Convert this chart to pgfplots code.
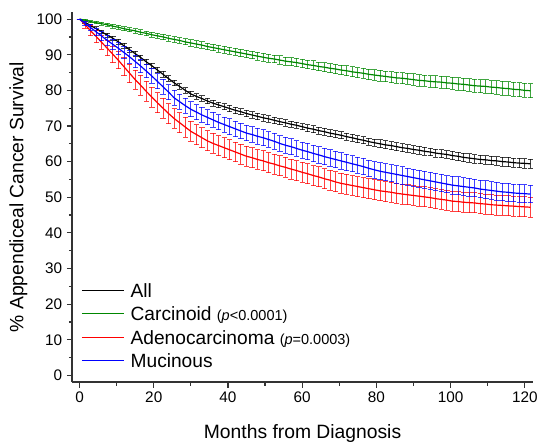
\documentclass[border=0pt]{standalone}
\usepackage{fontspec}
\setmainfont{Liberation Sans}
\usepackage{pgfplots}
\usepackage{pgfplotstable}
\pgfplotsset{compat=1.18}
\definecolor{cgreen}{RGB}{0,135,0}
\definecolor{axgray}{RGB}{51,51,51}
\tikzset{leg/.style={anchor=base west, xshift=36.5pt, yshift=-5.2pt, inner sep=0pt,
    text=black, font=\fontsize{14.4}{17}\selectfont},
    legline/.style={line width=1.2pt}}

% x: months; a/g/d/m: survival (%) for All, Carcinoid, Adeno, Mucinous; *e: error
\pgfplotstableread{
x a ae g ge d de m me
0 100 0 100 0 100 0 100 0
1.5 99.1 0.3 99.7 0.2 98.4 0.9 98.8 0.6
3 98.2 0.4 99.3 0.3 96.7 1.4 97.6 0.9
4.5 97.3 0.5 99.0 0.35 95.1 1.7 96.4 1.1
6 96.4 0.5 98.7 0.4 93.4 1.9 95.2 1.3
7.5 95.5 0.6 98.4 0.45 91.8 2.1 94.0 1.4
9 94.6 0.6 98.0 0.5 90.1 2.3 92.9 1.5
10.5 93.6 0.7 97.7 0.55 88.4 2.4 91.8 1.6
12 92.5 0.7 97.3 0.55 86.6 2.5 90.6 1.7
13.5 91.4 0.7 97.0 0.6 84.8 2.6 89.4 1.8
15 90.3 0.7 96.7 0.6 83.0 2.7 88.1 1.8
16.5 89.2 0.7 96.3 0.65 81.4 2.8 86.8 1.9
18 88.0 0.7 96.0 0.65 79.7 2.8 85.4 1.9
19.5 86.9 0.7 95.6 0.7 78.1 2.8 84.0 2.0
21 85.7 0.8 95.3 0.7 76.5 2.8 82.5 2.1
22.5 84.5 0.8 95.0 0.75 75.0 2.8 81.0 2.1
24 83.3 0.8 94.6 0.75 73.5 2.8 79.5 2.1
25.5 82.1 0.8 94.3 0.8 72.1 2.8 77.9 2.1
27 81.1 0.8 94.0 0.8 70.9 2.8 76.8 2.1
28.5 80.0 0.8 93.6 0.85 69.7 2.8 75.7 2.1
30 79.0 0.8 93.3 0.85 68.5 2.8 74.7 2.1
31.5 78.3 0.8 93.0 0.9 67.6 2.8 73.9 2.1
33 77.7 0.8 92.7 0.9 66.7 2.8 73.1 2.1
34.5 77.0 0.8 92.3 0.9 65.8 2.8 72.4 2.1
36 76.4 0.8 92.0 0.95 65.1 2.8 71.7 2.1
37.5 75.9 0.8 91.7 0.95 64.5 2.8 71.0 2.1
39 75.4 0.8 91.4 1.0 63.9 2.8 70.4 2.1
40.5 74.9 0.9 91.1 1.0 63.3 2.8 69.8 2.2
42 74.4 0.9 90.8 1.0 62.7 2.8 69.2 2.2
43.5 74.0 0.9 90.5 1.05 62.1 2.8 68.6 2.2
45 73.5 0.9 90.2 1.05 61.5 2.8 68.0 2.2
46.5 73.1 0.9 89.9 1.05 61.1 2.8 67.6 2.2
48 72.7 0.9 89.6 1.1 60.6 2.8 67.1 2.2
49.5 72.3 0.9 89.3 1.1 60.2 2.8 66.7 2.2
51 72.0 0.9 89.0 1.1 59.7 2.8 66.2 2.2
52.5 71.6 0.9 88.8 1.1 59.3 2.8 65.7 2.2
54 71.2 0.9 88.5 1.15 58.8 2.8 65.1 2.2
55.5 70.9 0.9 88.2 1.15 58.4 2.8 64.6 2.2
57 70.5 0.9 88.0 1.15 57.9 2.8 64.2 2.2
58.5 70.2 0.9 87.8 1.2 57.5 2.8 63.7 2.2
60 69.8 0.9 87.5 1.2 57.0 2.8 63.2 2.2
61.5 69.4 1.0 87.2 1.2 56.6 2.8 62.8 2.3
63 69.1 1.0 87.0 1.25 56.1 2.8 62.3 2.3
64.5 68.7 1.0 86.7 1.25 55.7 2.8 61.9 2.3
66 68.4 1.0 86.5 1.3 55.2 2.8 61.4 2.3
67.5 68.0 1.0 86.2 1.3 54.8 2.8 61.0 2.3
69 67.7 1.0 86.0 1.3 54.3 2.8 60.6 2.3
70.5 67.4 1.0 85.7 1.35 53.9 2.8 60.2 2.3
72 67.0 1.0 85.5 1.35 53.6 2.8 59.8 2.3
73.5 66.7 1.0 85.2 1.4 53.3 2.8 59.4 2.3
75 66.3 1.0 85.0 1.4 53.0 2.8 59.0 2.3
76.5 66.0 1.0 84.8 1.4 52.7 2.8 58.6 2.3
78 65.6 1.0 84.5 1.45 52.4 2.8 58.1 2.3
79.5 65.3 1.0 84.3 1.45 52.1 2.8 57.7 2.3
81 65.0 1.1 84.1 1.5 51.8 2.8 57.3 2.4
82.5 64.7 1.1 83.9 1.5 51.6 2.8 57.0 2.4
84 64.5 1.1 83.7 1.5 51.4 2.8 56.7 2.4
85.5 64.2 1.1 83.5 1.55 51.1 2.8 56.4 2.4
87 63.9 1.1 83.4 1.55 50.9 2.8 56.1 2.4
88.5 63.7 1.1 83.2 1.55 50.7 2.8 55.8 2.4
90 63.4 1.1 83.0 1.6 50.5 2.8 55.5 2.4
91.5 63.2 1.1 82.8 1.6 50.3 2.8 55.2 2.4
93 62.9 1.1 82.7 1.6 50.1 2.8 54.9 2.4
94.5 62.7 1.1 82.5 1.65 49.9 2.8 54.6 2.4
96 62.4 1.1 82.4 1.65 49.6 2.8 54.3 2.4
97.5 62.2 1.1 82.3 1.65 49.4 2.8 54.0 2.4
99 62.0 1.1 82.1 1.7 49.2 2.8 53.7 2.4
100.5 61.7 1.2 82.0 1.7 48.9 2.8 53.4 2.5
102 61.5 1.2 81.8 1.75 48.8 2.8 53.2 2.5
103.5 61.2 1.2 81.7 1.75 48.6 2.8 53.0 2.5
105 61.0 1.2 81.5 1.8 48.5 2.8 52.8 2.5
106.5 60.8 1.2 81.3 1.8 48.4 2.8 52.6 2.5
108 60.6 1.2 81.2 1.8 48.2 2.8 52.3 2.5
109.5 60.5 1.2 81.1 1.85 48.1 2.8 52.1 2.5
111 60.3 1.2 80.9 1.85 47.9 2.8 51.9 2.5
112.5 60.2 1.2 80.8 1.9 47.8 2.8 51.7 2.5
114 60.0 1.3 80.6 1.9 47.7 2.8 51.5 2.5
115.5 59.9 1.3 80.5 1.9 47.6 2.8 51.4 2.5
117 59.7 1.3 80.3 1.95 47.5 2.8 51.2 2.5
118.5 59.6 1.3 80.2 1.95 47.4 2.8 51.1 2.5
120 59.5 1.3 80.0 2.0 47.3 2.8 51.0 2.5
121.5 59.4 1.3 79.9 2.0 47.2 2.8 50.9 2.5
}\surv

\begin{document}
\begin{tikzpicture}
\begin{axis}[
    scale only axis, width=346.3pt, height=278.2pt,
    xmin=-2, xmax=122.2, ymin=-1.9, ymax=102,
    axis lines=left,
    axis line style={-, line width=1.1pt, color=axgray},
    xtick={0,20,...,120}, minor xtick={10,30,...,110},
    ytick={0,10,...,100}, minor ytick={5,15,...,95},
    tick align=outside, major tick length=4pt, minor tick length=2.5pt,
    tick style={line width=0.9pt, color=axgray},
    tick label style={font=\fontsize{11.5}{13}\selectfont},
    /pgf/number format/assume math mode=true,
    xlabel={Months from Diagnosis},
    ylabel={\% Appendiceal Cancer Survival},
    label style={font=\fontsize{14.5}{17}\selectfont},
    xlabel style={yshift=-9pt},
    ebar/.style={error bars/.cd, y dir=both, y explicit,
        error mark options={rotate=90, mark size=2pt, line width=0.75pt},
        error bar style={line width=0.75pt, opacity=0.75}},
]
\addplot[black, line width=0.9pt, ebar] table[x=x, y=a, y error=ae] {\surv};
\addplot[cgreen, line width=0.9pt, ebar] table[x=x, y=g, y error=ge] {\surv};
\addplot[red, line width=0.9pt, ebar] table[x=x, y=d, y error=de] {\surv};
\addplot[blue, line width=0.9pt, ebar] table[x=x, y=m, y error=me] {\surv};
% legend: lines first, text afterwards
\draw[legline, black] (axis description cs:0.021,0.248) -- ++(32pt,0pt);
\draw[legline, cgreen] (axis description cs:0.021,0.186) -- ++(32pt,0pt);
\draw[legline, red] (axis description cs:0.021,0.121) -- ++(32pt,0pt);
\draw[legline, blue] (axis description cs:0.021,0.059) -- ++(32pt,0pt);
\node[leg] at (axis description cs:0.021,0.248) {All};
\node[leg] at (axis description cs:0.021,0.186)
    {Carcinoid {\fontsize{10.9}{12}\selectfont(\textit{p}<0.0001)}};
\node[leg] at (axis description cs:0.021,0.121)
    {Adenocarcinoma {\fontsize{10.9}{12}\selectfont(\textit{p}=0.0003)}};
\node[leg] at (axis description cs:0.021,0.059) {Mucinous};
\end{axis}
\path ([shift={(-54.2pt,-48pt)}]current axis.south west)
      rectangle ([shift={(6pt,9pt)}]current axis.north east);
\end{tikzpicture}
\end{document}
